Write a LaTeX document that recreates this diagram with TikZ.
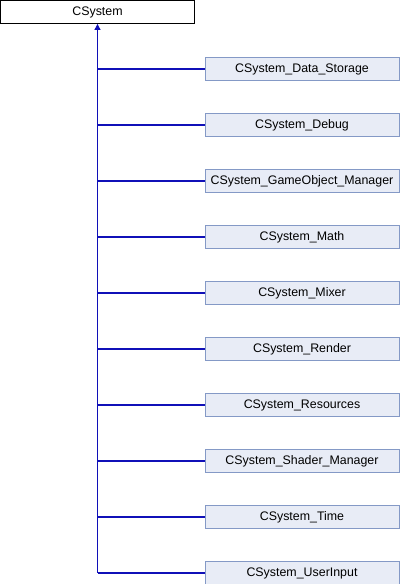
\documentclass[tikz,border=0pt]{standalone}
\usepackage{fontspec}
\setmainfont{Liberation Sans}
\usetikzlibrary{arrows.meta}
\definecolor{edgecol}{HTML}{1010B8}
\definecolor{childfill}{HTML}{E8ECF6}
\definecolor{childdraw}{HTML}{8499C6}
\tikzset{
  parentbox/.style={draw=black, fill=white, minimum width=194pt, minimum height=23pt, inner sep=0pt, font=\fontsize{12.4}{14}\selectfont, line width=0.9pt},
  childbox/.style={draw=childdraw, fill=childfill, minimum width=194pt, minimum height=23pt, inner sep=0pt, font=\fontsize{12.4}{14}\selectfont, line width=0.9pt},
  link/.style={draw=edgecol, line width=1.1pt},
}
\begin{document}
\begin{tikzpicture}[x=1pt,y=-1pt]
\useasboundingbox (0,0) rectangle (400,584);
\node[parentbox] (p) at (97.5,12) {CSystem};
\foreach \name [count=\i from 0] in {CSystem\_Data\_Storage,CSystem\_Debug,CSystem\_GameObject\_Manager,CSystem\_Math,CSystem\_Mixer,CSystem\_Render,CSystem\_Resources,CSystem\_Shader\_Manager,CSystem\_Time,CSystem\_UserInput}{
  \node[childbox] (c\i) at (302,{69+56*\i}) {\name};
  \coordinate (j\i) at (97.5,{69+56*\i});
  \draw[link] (c\i.west) -- (j\i);
}
\draw[link, -{Triangle[length=6pt,width=6pt]}] (j9) -- (p.south);
\end{tikzpicture}
\end{document}
